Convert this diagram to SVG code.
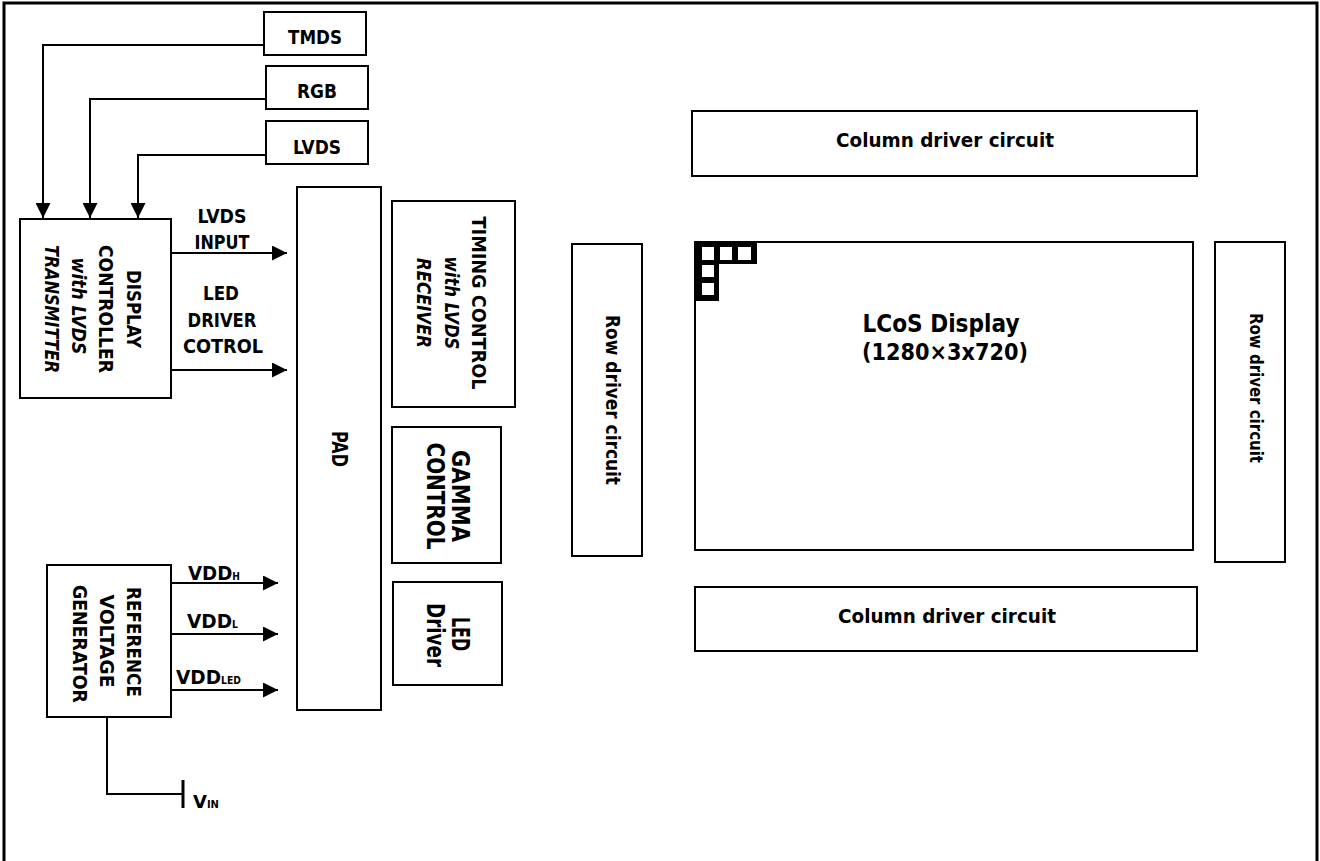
<svg xmlns="http://www.w3.org/2000/svg" width="1320" height="861" viewBox="0 0 1320 861">
<style>
.b{fill:#fff;stroke:#000;stroke-width:2}
.c{fill:none;stroke:#000;stroke-width:2}
.t{font-family:"DejaVu Sans",sans-serif;font-weight:bold;fill:#000;font-size:20px}
.m{text-anchor:middle}
.i{font-style:italic}
.s{font-size:10px}
.g{font-size:24px}
</style>
<defs>
<marker id="ar" markerUnits="userSpaceOnUse" markerWidth="16" markerHeight="15" refX="15" refY="7.5" orient="auto">
<path d="M0,0 L15,7.5 L0,15 Z" fill="#000"/>
</marker>
</defs>
<rect width="1320" height="861" fill="#fff"/>
<rect x="4" y="3" width="1313" height="900" fill="none" stroke="#000" stroke-width="3"/>

<g id="connectors">
<polyline class="c" points="264,45 43,45 43,218" marker-end="url(#ar)"/>
<polyline class="c" points="266,99 90,99 90,218" marker-end="url(#ar)"/>
<polyline class="c" points="266,155 138,155 138,218" marker-end="url(#ar)"/>
<line class="c" x1="171" y1="253" x2="287" y2="253" marker-end="url(#ar)"/>
<line class="c" x1="171" y1="370" x2="287" y2="370" marker-end="url(#ar)"/>
<line class="c" x1="171" y1="583" x2="278" y2="583" marker-end="url(#ar)"/>
<line class="c" x1="171" y1="634" x2="278" y2="634" marker-end="url(#ar)"/>
<line class="c" x1="171" y1="690" x2="278" y2="690" marker-end="url(#ar)"/>
<polyline class="c" points="107,717 107,794 183,794"/>
<line x1="183" y1="780" x2="183" y2="808" stroke="#000" stroke-width="3"/>
<text class="t m" x="222" y="223" textLength="49" lengthAdjust="spacingAndGlyphs">LVDS</text>
<text class="t m" x="222" y="249" textLength="55" lengthAdjust="spacingAndGlyphs">INPUT</text>
<text class="t m" x="221" y="300" textLength="36" lengthAdjust="spacingAndGlyphs">LED</text>
<text class="t m" x="222" y="327" textLength="69" lengthAdjust="spacingAndGlyphs">DRIVER</text>
<text class="t m" x="223" y="353" textLength="80" lengthAdjust="spacingAndGlyphs">COTROL</text>
<text class="t" x="188" y="580" textLength="52" lengthAdjust="spacingAndGlyphs">VDD<tspan class="s">H</tspan></text>
<text class="t" x="187" y="628" textLength="51" lengthAdjust="spacingAndGlyphs">VDD<tspan class="s">L</tspan></text>
<text class="t" x="176" y="684" textLength="65" lengthAdjust="spacingAndGlyphs">VDD<tspan class="s">LED</tspan></text>
<text class="t" x="193" y="808" style="font-size:18px" textLength="26" lengthAdjust="spacingAndGlyphs">V<tspan class="s">IN</tspan></text>
</g>

<g id="tmds">
<rect class="b" x="264" y="12" width="102" height="43"/>
<text class="t m" x="315" y="44" textLength="54" lengthAdjust="spacingAndGlyphs">TMDS</text>
</g>
<g id="rgb">
<rect class="b" x="266" y="66" width="102" height="43"/>
<text class="t m" x="317" y="98" textLength="40" lengthAdjust="spacingAndGlyphs">RGB</text>
</g>
<g id="lvds">
<rect class="b" x="266" y="121" width="102" height="43"/>
<text class="t m" x="317" y="154" textLength="48" lengthAdjust="spacingAndGlyphs">LVDS</text>
</g>

<g id="display-controller">
<rect class="b" x="20" y="219" width="151" height="179"/>
<text class="t m" transform="translate(127,309) rotate(90)" textLength="78" lengthAdjust="spacingAndGlyphs">DISPLAY</text>
<text class="t m" transform="translate(99,309) rotate(90)" textLength="128" lengthAdjust="spacingAndGlyphs">CONTROLLER</text>
<text class="t m i" transform="translate(72,306) rotate(90)" textLength="97" lengthAdjust="spacingAndGlyphs">with LVDS</text>
<text class="t m i" transform="translate(45,309) rotate(90)" textLength="128" lengthAdjust="spacingAndGlyphs">TRANSMITTER</text>
</g>

<g id="pad">
<rect class="b" x="297" y="187" width="84" height="523"/>
<text class="t m" style="font-size:22px" transform="translate(332,449) rotate(90)" textLength="36" lengthAdjust="spacingAndGlyphs">PAD</text>
</g>

<g id="timing-control">
<rect class="b" x="392" y="201" width="123" height="206"/>
<text class="t m" transform="translate(472,303) rotate(90)" textLength="173" lengthAdjust="spacingAndGlyphs">TIMING CONTROL</text>
<text class="t m i" transform="translate(445,303) rotate(90)" textLength="93" lengthAdjust="spacingAndGlyphs">with LVDS</text>
<text class="t m i" transform="translate(417,303) rotate(90)" textLength="90" lengthAdjust="spacingAndGlyphs">RECEIVER</text>
</g>

<g id="gamma-control">
<rect class="b" x="392" y="427" width="109" height="136"/>
<text class="t m g" transform="translate(452,496) rotate(90)" textLength="92" lengthAdjust="spacingAndGlyphs">GAMMA</text>
<text class="t m g" transform="translate(427,496) rotate(90)" textLength="107" lengthAdjust="spacingAndGlyphs">CONTROL</text>
</g>

<g id="led-driver">
<rect class="b" x="393" y="582" width="109" height="103"/>
<text class="t m g" transform="translate(452,634) rotate(90)" textLength="34" lengthAdjust="spacingAndGlyphs">LED</text>
<text class="t m g" transform="translate(427,635) rotate(90)" textLength="64" lengthAdjust="spacingAndGlyphs">Driver</text>
</g>

<g id="row-driver-left">
<rect class="b" x="572" y="244" width="70" height="312"/>
<text class="t m" style="font-size:19px" transform="translate(606,400) rotate(90)" textLength="170" lengthAdjust="spacingAndGlyphs">Row driver circuit</text>
</g>

<g id="column-driver-top">
<rect class="b" x="692" y="111" width="505" height="65"/>
<text class="t m" x="945" y="147" textLength="218" lengthAdjust="spacingAndGlyphs">Column driver circuit</text>
</g>

<g id="lcos-display">
<rect class="b" x="695" y="242" width="498" height="308"/>
<path d="M695,242 H757 V264 H719 V301 H695 Z" fill="#000"/>
<rect x="702" y="247" width="12" height="13" fill="#fff"/>
<rect x="720" y="247" width="12" height="13" fill="#fff"/>
<rect x="738" y="247" width="13" height="13" fill="#fff"/>
<rect x="702" y="265" width="12" height="12" fill="#fff"/>
<rect x="702" y="283" width="12" height="12" fill="#fff"/>
<text class="t m" style="font-size:24px" x="941" y="332" textLength="157" lengthAdjust="spacingAndGlyphs">LCoS Display</text>
<text class="t m" style="font-size:23px" x="945" y="360" textLength="166" lengthAdjust="spacingAndGlyphs">(1280×3x720)</text>
</g>

<g id="row-driver-right">
<rect class="b" x="1215" y="242" width="70" height="320"/>
<text class="t m" style="font-size:18px" transform="translate(1250,388) rotate(90)" textLength="150" lengthAdjust="spacingAndGlyphs">Row driver circuit</text>
</g>

<g id="column-driver-bottom">
<rect class="b" x="695" y="587" width="502" height="64"/>
<text class="t m" x="947" y="623" textLength="218" lengthAdjust="spacingAndGlyphs">Column driver circuit</text>
</g>

<g id="reference-voltage-generator">
<rect class="b" x="47" y="565" width="124" height="152"/>
<text class="t m" transform="translate(127,642) rotate(90)" textLength="110" lengthAdjust="spacingAndGlyphs">REFERENCE</text>
<text class="t m" transform="translate(100,641) rotate(90)" textLength="93" lengthAdjust="spacingAndGlyphs">VOLTAGE</text>
<text class="t m" transform="translate(73,644) rotate(90)" textLength="118" lengthAdjust="spacingAndGlyphs">GENERATOR</text>
</g>
</svg>
